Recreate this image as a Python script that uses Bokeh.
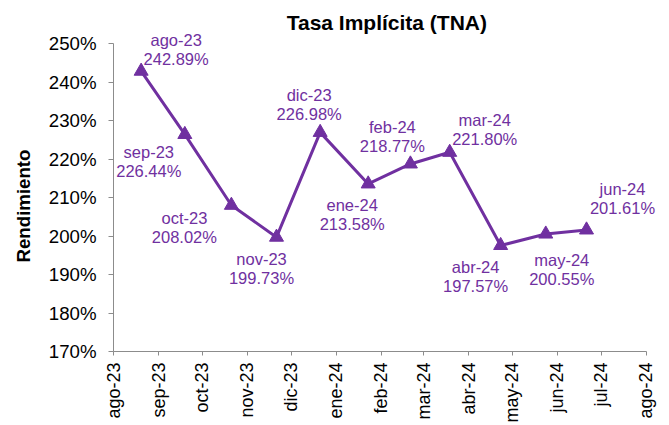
import math
import pandas as pd
from bokeh.plotting import figure
from bokeh.models import (ColumnDataSource, Range1d, FixedTicker, PrintfTickFormatter,
                          LabelSet, Label, Title)
from bokeh.core.properties import value
from bokeh.embed import file_html
from bokeh.resources import INLINE

# ---- data ----
obs_dates = ["2023-08-20", "2023-09-19", "2023-10-21", "2023-11-21", "2023-12-21",
             "2024-01-23", "2024-02-21", "2024-03-19", "2024-04-23", "2024-05-24",
             "2024-06-21"]
obs_labels = ["ago-23", "sep-23", "oct-23", "nov-23", "dic-23", "ene-24",
              "feb-24", "mar-24", "abr-24", "may-24", "jun-24"]
rates = [242.89, 226.44, 208.02, 199.73, 226.98, 213.58,
         218.77, 221.80, 197.57, 200.55, 201.61]

tick_dates = ["2023-08-01", "2023-09-01", "2023-10-01", "2023-11-01", "2023-12-01",
              "2024-01-01", "2024-02-01", "2024-03-01", "2024-04-01", "2024-05-01",
              "2024-06-01", "2024-07-01", "2024-08-01"]
tick_labels = ["ago-23", "sep-23", "oct-23", "nov-23", "dic-23", "ene-24", "feb-24",
               "mar-24", "abr-24", "may-24", "jun-24", "jul-24", "ago-24"]
y_ticks = [170, 180, 190, 200, 210, 220, 230, 240, 250]

# ---- layout (pixels) ----
W, H = 669, 425
AX_LEFT, AX_RIGHT, AX_TOP, AX_BOTTOM = 113.3, 645.7, 43.3, 350.7   # axis box
label_dx = [35, -36, -47, -15, -11, -16, -18, 35, -25, 16, 36]
label_dy = [-22, 27, 22, 31, -28, 31, -27, -23, 31, 35, -31]       # down-positive
line_gap = 9.5

PURPLE = "#7030A0"
AXIS_GREY = "#8c8c8c"
FONT = "Liberation Sans"

src = ColumnDataSource(dict(
    x=pd.to_datetime(obs_dates),
    y=rates,
    lab=obs_labels,
    val=[f"{v:.2f}%" for v in rates],
    dx=label_dx,
    up1=[-(d - line_gap) for d in label_dy],
    up2=[-(d + line_gap) for d in label_dy],
))

# ranges: the axes cover ago-23..ago-24 and 170..250 %, the frame extends further
# (right and top) so that data labels / title are not clipped.
x0 = pd.Timestamp(tick_dates[0]).value / 1e6
x1 = pd.Timestamp(tick_dates[-1]).value / 1e6
ms_per_px = (x1 - x0) / (AX_RIGHT - AX_LEFT)
x_end = x0 + ms_per_px * (W - AX_LEFT)
y0, y1 = y_ticks[0], y_ticks[-1]
u_per_px = (y1 - y0) / (AX_BOTTOM - AX_TOP)
y_end = y1 + u_per_px * AX_TOP

p = figure(width=W, height=H, x_axis_type="datetime",
           output_backend="svg", toolbar_location=None,
           x_range=Range1d(x0, x_end), y_range=Range1d(y0, y_end),
           min_border_left=int(round(AX_LEFT)), min_border_right=0,
           min_border_top=0, min_border_bottom=int(round(H - AX_BOTTOM)))

p.outline_line_color = None
p.xgrid.grid_line_color = None
p.ygrid.grid_line_color = None
p.background_fill_color = "white"
p.border_fill_color = "white"

# x axis
tick_ms = [pd.Timestamp(d).value / 1e6 for d in tick_dates]
xa = p.xaxis[0]
xa.bounds = (x0, x1)
xa.ticker = FixedTicker(ticks=tick_ms)
xa.major_label_overrides = {t: l for t, l in zip(tick_ms, tick_labels)}
xa.major_label_orientation = math.pi / 2
xa.major_label_text_font = FONT
xa.major_label_text_font_size = "18px"
xa.major_label_text_color = "black"
xa.major_label_standoff = 7
xa.axis_line_color = AXIS_GREY
xa.major_tick_line_color = AXIS_GREY
xa.major_tick_out = 4
xa.major_tick_in = 0
xa.minor_tick_line_color = None

# y axis
ya = p.yaxis[0]
ya.bounds = (y0, y1)
ya.ticker = FixedTicker(ticks=y_ticks)
ya.formatter = PrintfTickFormatter(format="%d%%")
ya.major_label_text_font = FONT
ya.major_label_text_font_size = "18.67px"
ya.major_label_text_color = "black"
ya.major_label_standoff = 12
ya.axis_line_color = AXIS_GREY
ya.major_tick_line_color = AXIS_GREY
ya.major_tick_out = 5
ya.major_tick_in = 0
ya.minor_tick_line_color = None

# y axis title in the left panel
p.add_layout(Title(text="Rendimiento", align="left", offset=89,
                   vertical_align="top", standoff=20,
                   text_font=FONT, text_font_size="18.67px",
                   text_font_style="bold", text_color="black"), "left")

# chart title
p.add_layout(Label(x=(x0 + x1) / 2, y=y1, x_offset=7, y_offset=21,
                   text="Tasa Implícita (TNA)",
                   text_align="center", text_baseline="middle",
                   text_font=FONT, text_font_size="21px", text_font_style="bold",
                   text_color="black"))

# series
p.line("x", "y", source=src, line_color=PURPLE, line_width=3)
p.scatter("x", "y", source=src, marker="triangle", size=14,
          fill_color=PURPLE, line_color=PURPLE)

# data labels
for col, up in (("lab", "up1"), ("val", "up2")):
    p.add_layout(LabelSet(x="x", y="y", text=col, source=src,
                          x_offset="dx", y_offset=up,
                          text_align="center", text_baseline="middle",
                          text_font=value(FONT), text_font_size=value("16.5px"),
                          text_color=PURPLE))

open("out.html", "w").write(file_html(p, INLINE))
